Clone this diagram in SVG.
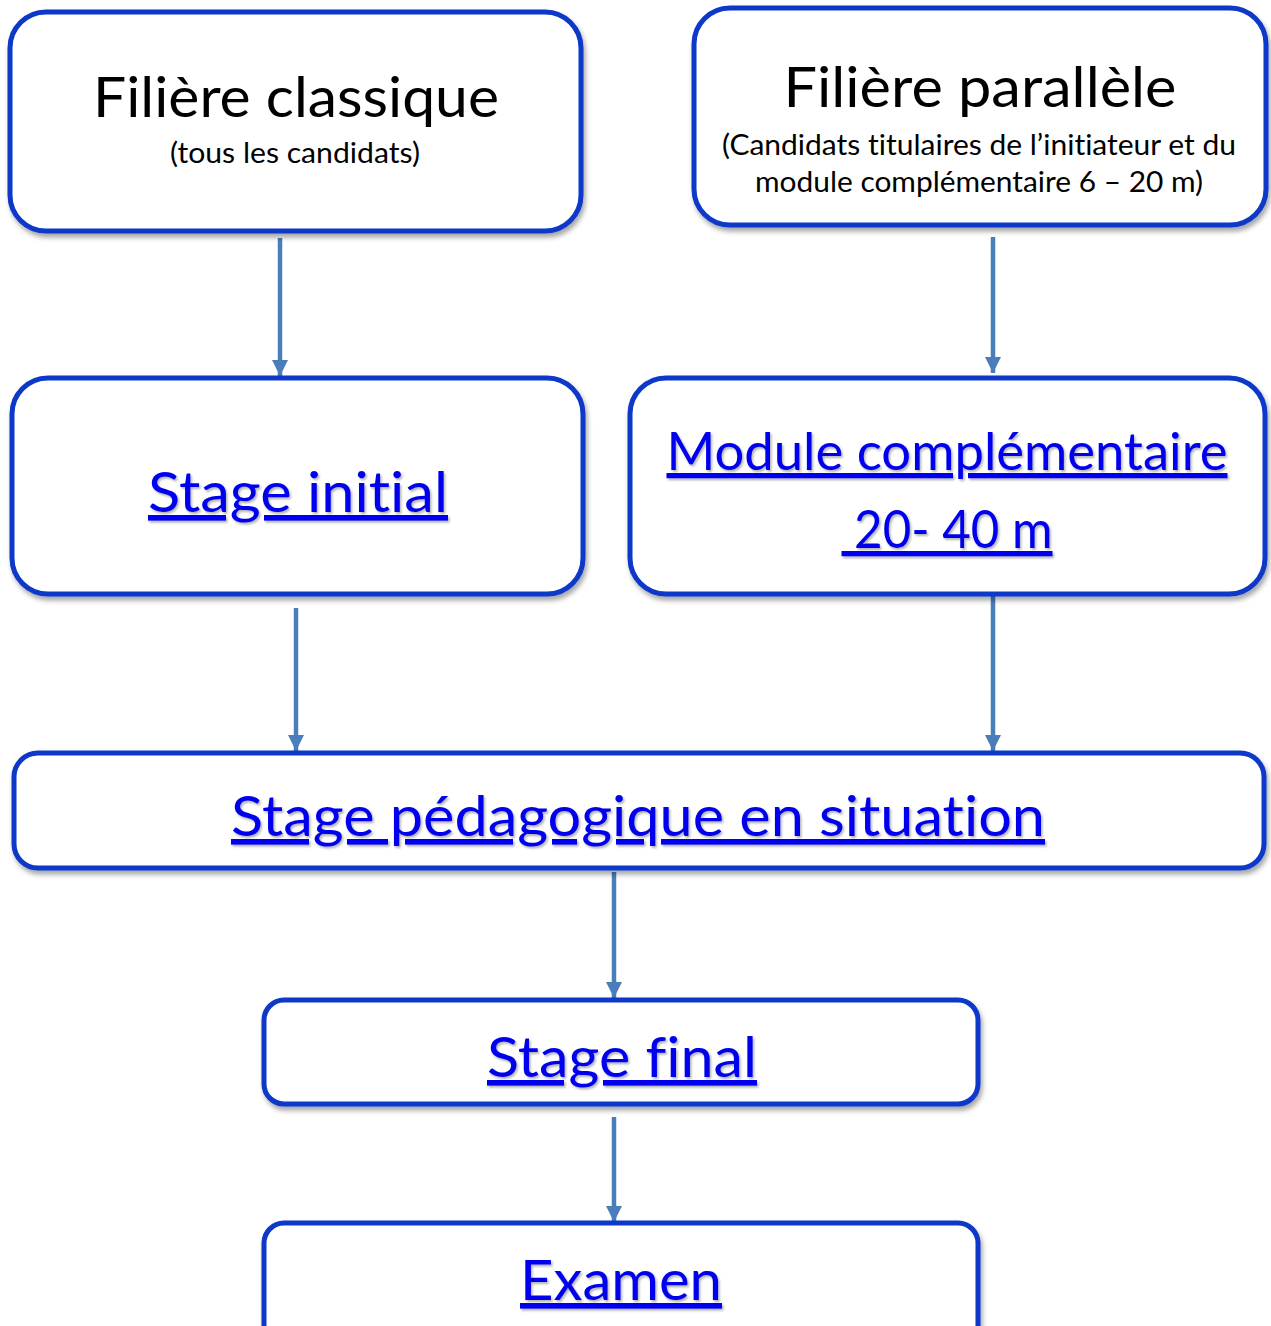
<svg xmlns="http://www.w3.org/2000/svg" width="1271" height="1326" viewBox="0 0 1271 1326">
<defs>
<filter id="sh" x="-5%" y="-5%" width="110%" height="120%">
<feDropShadow dx="2" dy="4" stdDeviation="2.5" flood-color="#000" flood-opacity="0.35"/>
</filter>
<filter id="tsh" x="-5%" y="-10%" width="110%" height="130%">
<feDropShadow dx="1.5" dy="2" stdDeviation="1.2" flood-color="#000" flood-opacity="0.3"/>
</filter>
<marker id="ah" markerWidth="16" markerHeight="16" refX="16" refY="8" orient="auto" markerUnits="userSpaceOnUse" viewBox="0 0 16 16">
<path d="M0,0 L16,8 L0,16 Z" fill="#4a7ebb"/>
</marker>
<style>
.box{fill:#fff;stroke:#0a37c8;stroke-width:5;filter:url(#sh)}
.t{font-family:Lato,"Open Sans","Liberation Sans",sans-serif;fill:#000;text-anchor:middle;font-variant-ligatures:none}
.l{font-family:Lato,"Open Sans","Liberation Sans",sans-serif;fill:#0000ee;text-anchor:middle;text-decoration:underline;filter:url(#tsh);font-variant-ligatures:none}
.c{stroke:#4a7ebb;stroke-width:4.5;fill:none;marker-end:url(#ah)}
</style>
</defs>
<rect width="1271" height="1326" fill="#fff"/>
<g id="connectors">
<line class="c" x1="280" y1="238" x2="280" y2="376"/>
<line class="c" x1="993" y1="237" x2="993" y2="373"/>
<line class="c" x1="296" y1="608" x2="296" y2="751"/>
<line class="c" x1="993" y1="594" x2="993" y2="751"/>
<line class="c" x1="614" y1="872" x2="614" y2="998"/>
<line class="c" x1="614" y1="1117" x2="614" y2="1222"/>
</g>
<g id="filiere-classique">
<rect class="box" x="10" y="12" width="571" height="219" rx="36"/>
<text class="t" x="296" y="117" font-size="56" textLength="406" lengthAdjust="spacingAndGlyphs">Filière classique</text>
<text class="t" x="295" y="163" font-size="28" textLength="250" lengthAdjust="spacingAndGlyphs">(tous les candidats)</text>
</g>
<g id="filiere-parallele">
<rect class="box" x="694" y="8" width="572" height="217" rx="36"/>
<text class="t" x="980" y="107" font-size="56" textLength="393" lengthAdjust="spacingAndGlyphs">Filière parallèle</text>
<text class="t" x="979" y="155" font-size="28" textLength="514" lengthAdjust="spacingAndGlyphs">(Candidats titulaires de l’initiateur et du</text>
<text class="t" x="979" y="192" font-size="28" textLength="448" lengthAdjust="spacingAndGlyphs">module complémentaire 6 – 20 m)</text>
</g>
<g id="stage-initial">
<rect class="box" x="12" y="378" width="571" height="216" rx="36"/>
<text class="l" x="298" y="512" font-size="56" textLength="300" lengthAdjust="spacingAndGlyphs">Stage initial</text>
</g>
<g id="module-complementaire">
<rect class="box" x="630" y="378" width="635" height="216" rx="36"/>
<text class="l" x="947" y="470" font-size="52" textLength="561" lengthAdjust="spacingAndGlyphs">Module complémentaire</text>
<text class="l" x="947" y="548" font-size="52" textLength="211" lengthAdjust="spacingAndGlyphs" xml:space="preserve"> 20- 40 m</text>
</g>
<g id="stage-pedagogique">
<rect class="box" x="14" y="753" width="1250" height="115" rx="24"/>
<text class="l" x="638" y="836" font-size="56" textLength="814" lengthAdjust="spacingAndGlyphs">Stage pédagogique en situation</text>
</g>
<g id="stage-final">
<rect class="box" x="264" y="1000" width="714" height="104" rx="20"/>
<text class="l" x="622" y="1077" font-size="56" textLength="270" lengthAdjust="spacingAndGlyphs">Stage final</text>
</g>
<g id="examen">
<rect class="box" x="264" y="1223" width="714" height="130" rx="20"/>
<text class="l" x="621" y="1300" font-size="56" textLength="202" lengthAdjust="spacingAndGlyphs">Examen</text>
</g>
</svg>
